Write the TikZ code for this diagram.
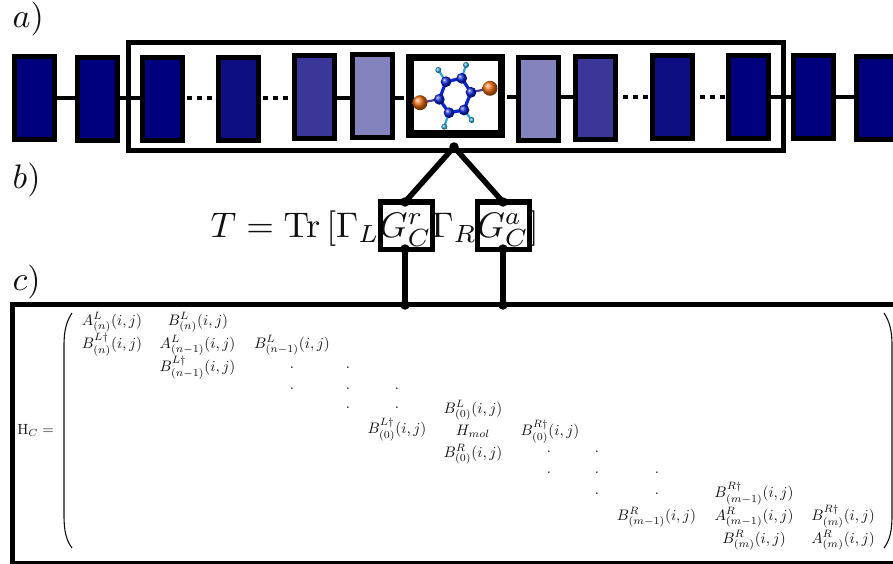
\documentclass[tikz,border=0pt]{standalone}
\definecolor{navyA}{HTML}{00007F}
\definecolor{navyB}{HTML}{0E0E82}
\definecolor{navyC}{HTML}{3A3799}
\definecolor{navyD}{HTML}{8583BD}
\definecolor{inkc}{HTML}{111111}
\definecolor{atomC}{HTML}{0A22D8}
\definecolor{atomH}{HTML}{2AA4DC}
\definecolor{atomO}{HTML}{F06C10}
\tikzset{
  site/.style={draw=black,line width=5pt,inner sep=0pt,minimum width=40pt,minimum height=83pt,fill=#1},
  molbox/.style={draw=black,line width=7.5pt,fill=white,inner sep=0pt,minimum width=91.5pt,minimum height=76.5pt},
  gbox/.style={draw=black,line width=5.5pt,inner sep=0pt,minimum width=52pt,minimum height=47.5pt},
  frame/.style={draw=black,line width=5pt,inner sep=0pt},
  wire/.style={line width=4.5pt,black},
  dotwire/.style={line width=4.5pt,black,dash pattern=on 5pt off 5pt},
  jdot/.style={circle,fill=black,inner sep=0pt,minimum size=9.5pt},
  stem/.style={line width=5.5pt,black},
  big/.style={scale=3.4,anchor=base west,text=inkc,inner sep=0pt},
  ent/.style={scale=1.52,anchor=base,text=inkc,inner sep=0pt},
  mdot/.style={scale=1.52,anchor=base,text=inkc,inner sep=0pt},
  bond/.style={line width=3.2pt,atomC},
  hbond/.style={line width=2.2pt,atomH},
  oxbond/.style={line width=2.2pt,atomC!70!atomO}
}
\begin{document}
\begin{tikzpicture}[x=1pt,y=-1pt]
\useasboundingbox (0,0) rectangle (893,564);
\clip (0,0) rectangle (893,564);
\fill[white] (0,0) rectangle (893,564);
% labels
\node[big] (la) at (12,28) {$a)$};
\node[big] (lb) at (12,188) {$b)$};
\node[big] (lc) at (12,290) {$c)$};
% outer frame
\node[frame,minimum width=655pt,minimum height=108pt] (outer) at (456,96.5) {};
% chain
\node[site=navyA] (b1) at (34.5,98) {};
\node[site=navyA] (b2) at (97.5,99) {};
\node[site=navyA] (b3) at (162.5,99) {};
\node[site=navyB] (b4) at (238.5,99) {};
\node[site=navyC] (b5) at (314.5,97) {};
\node[site=navyD] (b6) at (372,96.5) {};
\node[molbox] (mol) at (455.5,96) {};
\node[site=navyD] (b7) at (538.5,99) {};
\node[site=navyC] (b8) at (595.5,98) {};
\node[site=navyB] (b9) at (672.5,97) {};
\node[site=navyA] (b10) at (748.5,97) {};
\node[site=navyA] (b11) at (813.5,97) {};
\node[site=navyA] (b12) at (876.5,98) {};
\coordinate (wl) at (0,98);
\coordinate (wr) at (0,97);
\draw[wire] (b1.east |- wl) -- (b2.west |- wl);
\draw[wire] (b2.east |- wl) -- (b3.west |- wl);
\draw[dotwire,shorten <=1.5pt] (b3.east |- wl) -- (b4.west |- wl);
\draw[dotwire,shorten <=2pt] (b4.east |- wl) -- (b5.west |- wl);
\draw[wire] (b5.east |- wl) -- (b6.west |- wl);
\draw[wire,shorten >=2pt] (b6.east |- wl) -- (mol.west |- wl);
\draw[wire,shorten <=2pt] (mol.east |- wr) -- (b7.west |- wr);
\draw[wire] (b7.east |- wr) -- (b8.west |- wr);
\draw[dotwire,dash phase=5pt] (b8.east |- wr) -- (b9.west |- wr);
\draw[dotwire,dash phase=5pt] (b9.east |- wr) -- (b10.west |- wr);
\draw[wire] (b10.east |- wr) -- (b11.west |- wr);
\draw[wire] (b11.east |- wr) -- (b12.west |- wr);
% molecule
\coordinate (c1) at (446,81.7);
\coordinate (c2) at (461.7,78.3);
\coordinate (c3) at (471,92.3);
\coordinate (c4) at (464,110);
\coordinate (c5) at (449,112.7);
\coordinate (c6) at (439.3,99.3);
\coordinate (h1) at (438.3,70);
\coordinate (h2) at (466,65);
\coordinate (h3) at (471.7,120);
\coordinate (h4) at (444.3,126.7);
\coordinate (o1) at (420,102.7);
\coordinate (o2) at (490,88.3);
\draw[hbond] (c1) -- (h1) (c2) -- (h2) (c4) -- (h3) (c5) -- (h4);
\draw[oxbond] (c6) -- (o1) (c3) -- (o2);
\draw[bond] (c1) -- (c2) -- (c3) -- (c4) -- (c5) -- (c6) -- cycle;
\foreach \a in {c1,c2,c3,c4,c5,c6} \shade[ball color=atomC] (\a) circle (5.4pt);
\foreach \a in {h1,h2,h3,h4} \shade[ball color=atomH] (\a) circle (3pt);
\foreach \a in {o1,o2} \shade[ball color=atomO] (\a) circle (7.5pt);
% formula
\node[big,scale=1.045] (eq) at (210,237) {$T=\mathrm{Tr}\left[\Gamma_L G_C^r\Gamma_R G_C^a\right]$};
% boxes round the Green functions
\node[gbox] (gr) at (406.5,225.5) {};
\node[gbox] (ga) at (503.5,225.5) {};
% Hamiltonian frame
\node[frame,minimum width=900pt,minimum height=258.5pt,anchor=north west] (hf) at (10,302) {};
% junctions
\node[jdot] (j0) at (454,147) {};
\node[jdot] (j1) at (405,202) {};
\node[jdot] (j2) at (503,202) {};
\node[jdot] (j3) at (405,249) {};
\node[jdot] (j4) at (503,249) {};
\node[jdot] (j5) at (405,305) {};
\node[jdot] (j6) at (503,305) {};
\draw[stem] (j0.center) -- (j1.center);
\draw[stem] (j0.center) -- (j2.center);
\draw[stem] (j3.center) -- (j5.center);
\draw[stem] (j4.center) -- (j6.center);
% H_C
\node[ent,anchor=base west,scale=0.97] (hc) at (17,434) {$\mathrm{H}_C=$};
% brackets
\coordinate (pl1) at (72,313);
\coordinate (pl2) at (72,548);
\coordinate (pr1) at (884,313);
\coordinate (pr2) at (884,548);
\draw[line width=1.1pt,inkc] (pl1) .. controls (66,322) and (64,332) .. (64,345) -- (64,516) .. controls (64,530) and (66,540) .. (pl2);
\draw[line width=1.1pt,inkc] (pr1) .. controls (890,322) and (892,332) .. (892,345) -- (892,516) .. controls (892,530) and (890,540) .. (pr2);
% matrix entries
\node[ent] (e1) at (112,325) {$A_{(n)}^{L}(i,j)$};
\node[ent] (e2) at (198,325) {$B_{(n)}^{L}(i,j)$};
\node[ent] (e3) at (112,348) {$B_{(n)}^{L\dagger}(i,j)$};
\node[ent] (e4) at (197.5,348) {$A_{(n-1)}^{L}(i,j)$};
\node[ent] (e5) at (292,348) {$B_{(n-1)}^{L}(i,j)$};
\node[ent] (e6) at (197.5,371) {$B_{(n-1)}^{L\dagger}(i,j)$};
\node[ent] (e7) at (397,433) {$B_{(0)}^{L\dagger}(i,j)$};
\node[ent] (e8) at (473,413) {$B_{(0)}^{L}(i,j)$};
\node[ent] (e9) at (473,435) {$H_{mol}$};
\node[ent] (e10) at (473,457) {$B_{(0)}^{R}(i,j)$};
\node[ent] (e11) at (550,435) {$B_{(0)}^{R\dagger}(i,j)$};
\node[ent] (e12) at (754,497) {$B_{(m-1)}^{R\dagger}(i,j)$};
\node[ent] (e13) at (656.5,520) {$B_{(m-1)}^{R}(i,j)$};
\node[ent] (e14) at (754,520) {$A_{(m-1)}^{R}(i,j)$};
\node[ent] (e15) at (843,520) {$B_{(m)}^{R\dagger}(i,j)$};
\node[ent] (e16) at (754,543) {$B_{(m)}^{R}(i,j)$};
\node[ent] (e17) at (843,543) {$A_{(m)}^{R}(i,j)$};
\foreach \px/\py [count=\i] in {292/368,348/368,292/389,348/389,397/389,348/408,397/408,549/452,597/452,549/473,597/473,657/473,597/494,657/494}
  \node[mdot] (d\i) at (\px,\py) {.};
\end{tikzpicture}
\end{document}
